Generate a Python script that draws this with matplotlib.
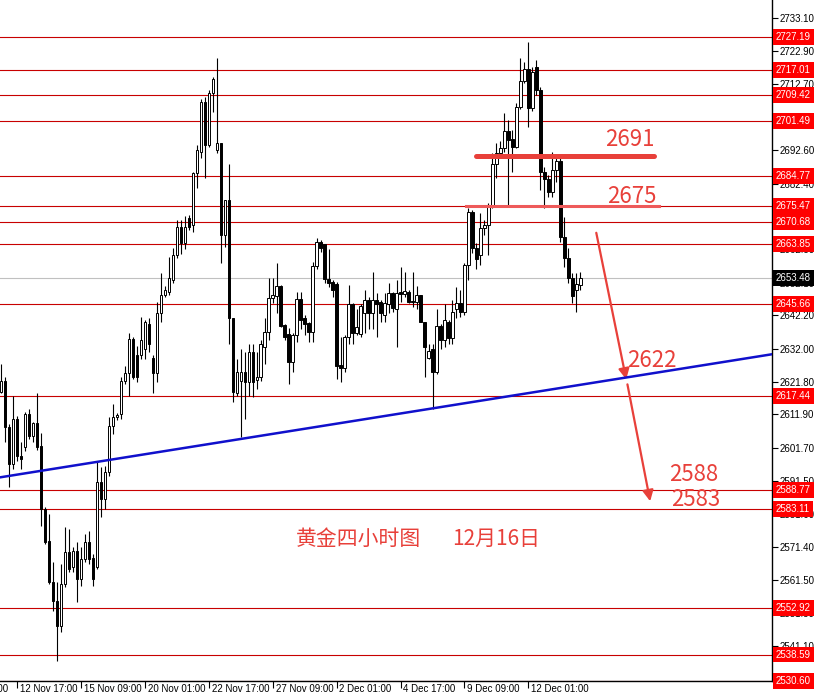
import matplotlib
matplotlib.use("Agg")
import matplotlib.pyplot as plt
import numpy as np

# 4h gold candles (open, high, low, close)
opens = [2618.9, 2622.0, 2608.0, 2596.7, 2610.4, 2599.1, 2601.9, 2612.2, 2605.2, 2609.2,
         2602.2, 2583.0, 2573.2, 2560.7, 2554.9, 2547.3, 2560.1, 2569.8, 2565.2, 2570.1,
         2561.6, 2567.7, 2572.9, 2568.0, 2565.2, 2591.2, 2586.0, 2594.2, 2608.3, 2611.0,
         2611.9, 2622.0, 2624.7, 2635.1, 2630.2, 2630.2, 2631.8, 2639.4, 2629.3, 2624.7,
         2643.0, 2648.5, 2649.4, 2653.1, 2660.7, 2669.3, 2664.4, 2672.0, 2669.9, 2685.7,
         2692.1, 2707.4, 2694.3, 2710.1, 2692.8, 2694.9, 2666.8, 2677.5, 2641.5, 2618.6,
         2622.0, 2625.0, 2621.7, 2631.1, 2622.3, 2623.2, 2632.4, 2637.2, 2647.6, 2648.2,
         2651.0, 2639.1, 2636.6, 2627.8, 2636.3, 2647.3, 2641.5, 2639.7, 2637.2, 2657.4,
         2664.7, 2664.1, 2653.4, 2652.5, 2651.9, 2626.9, 2626.0, 2635.7, 2645.5, 2636.9,
         2636.6, 2643.0, 2647.0, 2643.0, 2647.0, 2646.4, 2642.4, 2645.8, 2649.1, 2644.0,
         2649.4, 2648.8, 2649.4, 2646.7, 2646.4, 2648.5, 2640.3, 2629.3, 2631.8, 2625.0,
         2638.8, 2634.8, 2640.3, 2635.4, 2644.0, 2646.1, 2643.3, 2657.7, 2673.8, 2662.9,
         2660.7, 2669.0, 2669.9, 2676.0, 2688.5, 2691.8, 2693.4, 2698.5, 2696.1, 2693.7,
         2705.9, 2713.8, 2717.5, 2705.6, 2718.1, 2711.1, 2686.0, 2683.9, 2679.9, 2686.7,
         2689.4, 2666.2, 2659.8, 2653.7, 2650.0, 2651.6]
highs = [2627.2, 2623.2, 2608.9, 2617.4, 2611.3, 2603.4, 2612.8, 2613.5, 2609.5, 2618.6,
         2606.4, 2583.6, 2581.4, 2566.8, 2560.7, 2566.2, 2577.5, 2576.9, 2571.4, 2572.9,
         2571.4, 2575.3, 2576.2, 2569.2, 2597.6, 2595.8, 2596.1, 2611.0, 2615.0, 2612.5,
         2623.5, 2626.6, 2636.9, 2635.7, 2632.7, 2641.8, 2640.9, 2641.5, 2630.2, 2646.4,
         2655.2, 2651.0, 2660.1, 2662.9, 2671.4, 2671.4, 2672.6, 2672.9, 2686.0, 2694.3,
         2708.3, 2708.9, 2711.0, 2715.0, 2720.8, 2694.9, 2677.5, 2688.5, 2641.5, 2628.7,
         2631.8, 2631.1, 2633.3, 2633.3, 2631.1, 2634.8, 2641.5, 2653.7, 2653.7, 2658.3,
         2651.6, 2639.4, 2638.2, 2636.9, 2649.4, 2649.4, 2642.4, 2640.3, 2658.6, 2665.9,
         2665.3, 2664.1, 2662.3, 2653.1, 2652.5, 2635.7, 2636.3, 2651.6, 2646.1, 2644.0,
         2645.5, 2650.0, 2647.9, 2655.5, 2649.1, 2647.0, 2649.1, 2652.2, 2649.4, 2653.1,
         2657.1, 2655.5, 2650.0, 2655.5, 2651.0, 2648.5, 2640.3, 2633.3, 2633.3, 2644.0,
         2639.4, 2645.5, 2640.9, 2647.0, 2650.7, 2650.0, 2658.3, 2675.1, 2674.5, 2664.4,
         2673.5, 2671.4, 2676.6, 2691.8, 2694.9, 2695.5, 2704.0, 2701.9, 2698.9, 2707.1,
         2720.8, 2719.6, 2725.7, 2718.1, 2720.2, 2712.0, 2687.6, 2685.1, 2692.1, 2690.6,
         2690.3, 2672.3, 2662.9, 2655.2, 2655.2, 2655.5]
lows = [2618.6, 2603.4, 2589.7, 2595.2, 2597.6, 2595.2, 2600.6, 2604.3, 2603.4, 2601.2,
        2577.8, 2572.3, 2560.1, 2551.8, 2536.6, 2545.4, 2559.2, 2563.7, 2563.7, 2554.6,
        2559.5, 2566.8, 2566.2, 2559.5, 2564.6, 2580.5, 2583.0, 2593.0, 2605.8, 2610.1,
        2610.4, 2621.1, 2617.4, 2622.6, 2621.7, 2628.7, 2628.7, 2631.1, 2618.6, 2621.7,
        2640.3, 2647.9, 2648.5, 2652.2, 2659.8, 2661.0, 2662.3, 2668.4, 2667.7, 2681.2,
        2690.3, 2684.2, 2693.7, 2704.3, 2691.8, 2658.3, 2663.2, 2633.3, 2615.6, 2617.4,
        2604.9, 2610.4, 2617.4, 2617.1, 2619.6, 2622.0, 2627.2, 2634.8, 2646.1, 2643.0,
        2638.5, 2634.8, 2621.1, 2625.0, 2633.9, 2637.9, 2636.3, 2633.9, 2633.9, 2656.2,
        2661.6, 2652.2, 2650.7, 2647.9, 2622.6, 2621.7, 2625.0, 2633.3, 2633.3, 2636.3,
        2635.7, 2636.9, 2637.9, 2637.9, 2635.7, 2640.3, 2640.0, 2643.0, 2643.3, 2632.4,
        2646.4, 2647.9, 2646.1, 2644.6, 2644.0, 2640.0, 2623.2, 2628.7, 2613.5, 2624.4,
        2631.8, 2632.4, 2633.3, 2633.3, 2641.5, 2641.8, 2642.4, 2653.1, 2661.3, 2656.2,
        2657.7, 2666.8, 2660.7, 2675.1, 2684.2, 2691.2, 2692.1, 2675.4, 2686.0, 2693.4,
        2705.3, 2713.2, 2699.8, 2704.6, 2709.5, 2680.6, 2675.1, 2678.4, 2678.4, 2683.0,
        2664.7, 2656.8, 2652.2, 2646.1, 2643.3, 2650.0]
closes = [2622.0, 2608.0, 2596.7, 2610.4, 2599.1, 2598.2, 2612.2, 2605.2, 2609.2, 2601.9,
          2583.0, 2572.9, 2560.7, 2554.9, 2547.3, 2560.1, 2569.8, 2564.6, 2570.1, 2561.6,
          2567.7, 2572.9, 2567.7, 2561.6, 2591.2, 2586.0, 2594.2, 2608.3, 2611.0, 2611.6,
          2622.0, 2624.7, 2635.1, 2623.2, 2623.2, 2634.8, 2640.0, 2633.3, 2624.7, 2643.0,
          2648.5, 2650.0, 2653.7, 2660.7, 2669.3, 2664.4, 2669.3, 2669.3, 2685.7, 2692.8,
          2707.4, 2694.3, 2710.1, 2714.4, 2694.9, 2666.8, 2677.5, 2641.5, 2618.9, 2625.0,
          2625.0, 2621.7, 2631.1, 2621.7, 2623.2, 2633.3, 2637.2, 2647.6, 2648.5, 2651.0,
          2638.8, 2635.7, 2627.8, 2636.3, 2647.3, 2640.9, 2639.4, 2637.2, 2657.4, 2664.7,
          2662.6, 2653.4, 2652.2, 2650.0, 2626.6, 2626.0, 2635.7, 2645.5, 2636.9, 2638.5,
          2644.9, 2647.0, 2643.0, 2647.0, 2645.5, 2643.0, 2646.1, 2649.1, 2644.3, 2649.1,
          2648.8, 2649.7, 2646.4, 2646.4, 2648.5, 2640.3, 2632.4, 2631.4, 2625.0, 2638.8,
          2634.8, 2640.9, 2635.4, 2643.3, 2646.1, 2643.3, 2657.7, 2673.8, 2662.9, 2659.5,
          2669.0, 2669.9, 2676.0, 2688.5, 2691.8, 2693.4, 2698.5, 2695.8, 2693.7, 2705.9,
          2713.8, 2717.5, 2705.6, 2716.5, 2711.1, 2686.0, 2683.9, 2679.9, 2686.7, 2689.4,
          2666.2, 2659.8, 2653.7, 2648.2, 2651.9, 2653.5]

# horizontal levels drawn on the chart
levels = [2727.19, 2717.01, 2709.42, 2701.49, 2684.77, 2675.47, 2670.68, 2663.85,
          2645.66, 2617.44, 2588.77, 2583.11, 2552.92, 2538.59, 2530.60]
current_price = 2653.48

price_ticks = [2733.10, 2722.90, 2712.70, 2702.80, 2692.60, 2682.40, 2672.50, 2662.30,
               2652.10, 2642.20, 2632.00, 2621.80, 2611.90, 2601.70, 2591.50, 2581.60,
               2571.40, 2561.50, 2551.30, 2541.10]

date_ticks = [-12, 4, 20, 36, 52, 68, 84, 100, 116, 132]
date_labels = ["8 Nov 01:00", "12 Nov 17:00", "15 Nov 09:00", "20 Nov 01:00", "22 Nov 17:00",
               "27 Nov 09:00", "2 Dec 01:00", "4 Dec 17:00", "9 Dec 09:00", "12 Dec 01:00"]

# blue trendline (bar index, price)
trend_x = [-0.3, 193.0]
trend_y = [2592.7, 2630.3]

RED = "#e8403a"
CJK = ["Noto Sans CJK SC", "DejaVu Sans"]
AXF = "Liberation Sans"

fig = plt.figure(figsize=(8.15, 6.96), dpi=100)
ax = fig.add_axes([0, 15 / 696, 772 / 815, 681 / 696])

x = np.arange(len(opens))
o = np.array(opens)
c = np.array(closes)
bull = c >= o

ax.axhline(current_price, color="#c0c0c0", lw=0.8, zorder=1)
for lv in levels:
    ax.axhline(lv, color="#c80000", lw=0.8, zorder=1)

ax.vlines(x, lows, highs, color="black", lw=0.8, zorder=2)
ax.bar(x, np.abs(c - o), bottom=np.minimum(o, c), width=0.65,
       color=np.where(bull, "white", "black"), edgecolor="black", linewidth=0.7, zorder=3)

ax.plot(trend_x, trend_y, color="#1010cc", lw=1.8, zorder=4)

ax.set_xlim(-0.3, 193.0)
ax.set_ylim(2530.5, 2738.5)

# right price scale
ax.yaxis.tick_right()
ax.set_yticks(price_ticks)
ax.set_yticklabels(["%.2f" % v for v in price_ticks], family=AXF)
ax.tick_params(axis="y", length=4, width=0.8, pad=1.5, labelsize=7, direction="out")
ax.set_xticks(date_ticks[1:])
ax.set_xticklabels([])
ax.tick_params(axis="x", length=5, width=0.8, direction="out")
for k, lab in zip(date_ticks, date_labels):
    ax.annotate(lab, xy=(k, 0), xycoords=("data", "axes fraction"), xytext=(2, -2),
                textcoords="offset points", ha="left", va="top", fontsize=7, family=AXF,
                annotation_clip=False)

for s in ["left", "top"]:
    ax.spines[s].set_visible(False)
ax.spines["right"].set_linewidth(1)
ax.spines["bottom"].set_linewidth(1)

yt = ax.get_yaxis_transform()
for lv in levels:
    ax.text(1.005, lv, "%.2f" % lv, transform=yt, ha="left", va="center", fontsize=7,
            family=AXF, color="white", clip_on=False, zorder=10,
            bbox=dict(boxstyle="square,pad=0.3", fc="#ff0000", ec="none"))
ax.text(1.005, current_price, "%.2f" % current_price, transform=yt, ha="left", va="center",
        fontsize=7, family=AXF, color="white", clip_on=False, zorder=10,
        bbox=dict(boxstyle="square,pad=0.3", fc="black", ec="none"))

# hand-drawn marks
ax.plot([119, 163.5], [2690.9, 2690.9], color=RED, lw=3.6, solid_capstyle="round", zorder=5)
ax.plot([116.3, 164.8], [2675.7, 2675.7], color="#ee5a5a", lw=2.2, zorder=5)
ax.text(157.3, 2695.8, "2691", color=RED, fontsize=16, family=CJK, ha="center", va="center")
ax.text(157.8, 2678.4, "2675", color=RED, fontsize=16, family=CJK, ha="center", va="center")
ax.text(162.8, 2628.4, "2622", color=RED, fontsize=16, family=CJK, ha="center", va="center")
ax.text(173.3, 2593.6, "2588", color=RED, fontsize=16, family=CJK, ha="center", va="center")
ax.text(174.0, 2586.0, "2583", color=RED, fontsize=16, family=CJK, ha="center", va="center")
ax.text(89.5, 2573.8, "黄金四小时图", color=RED, fontsize=15, family=CJK, ha="center", va="center")
ax.text(124.0, 2573.8, "12月16日", color=RED, fontsize=15, family=CJK, ha="center", va="center")

arrow = dict(arrowstyle="-|>", color=RED, lw=1.6, mutation_scale=16, shrinkA=0, shrinkB=0)
ax.annotate("", xy=(156.5, 2622.6), xytext=(149.0, 2667.4), arrowprops=arrow)
ax.annotate("", xy=(162.5, 2585.4), xytext=(156.8, 2621.1), arrowprops=arrow)

fig.savefig("out.png", dpi=100, facecolor="white")
